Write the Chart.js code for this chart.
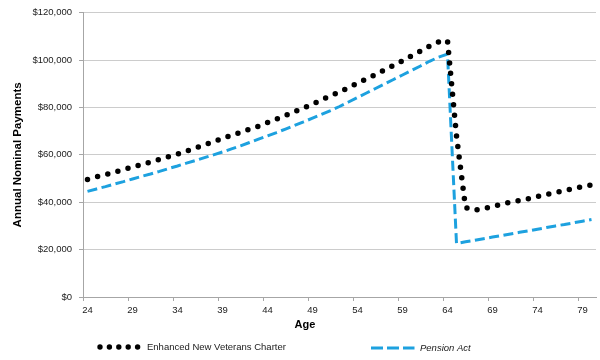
<!DOCTYPE html>
<html>
<head>
<meta charset="utf-8">
<script src="https://cdn.jsdelivr.net/npm/chart.js@4.4.0/dist/chart.umd.min.js"></script>
<style>
  html, body { margin: 0; padding: 0; background: #fff; }
</style>
</head>
<body>
<canvas id="chart" width="600" height="360"></canvas>
<script>
// Ages on the category axis
const ages = [24, 25, 26, 27, 28, 29, 30, 31, 32, 33, 34, 35, 36, 37, 38, 39, 40, 41, 42,
    43, 44, 45, 46, 47, 48, 49, 50, 51, 52, 53, 54, 55, 56, 57, 58, 59, 60, 61, 62, 63, 64,
    65, 66, 67, 68, 69, 70, 71, 72, 73, 74, 75, 76, 77, 78, 79, 80];

// Annual payments
const enhancedNVC = [49600, 50700, 51600, 52700, 53800, 54800, 55900, 57000, 58100, 59200,
    60300, 61600, 62900, 64200, 65500, 66900, 68300, 69500, 70800, 72100, 73600, 75100,
    76600, 78200, 79800, 81400, 83200, 84900, 86500, 88400, 90200, 92100, 93900, 95900,
    97800, 99700, 101800, 103800, 105900, 107600, 108200, 68000, 37800, 36600, 37300,
    38100, 39200, 40000, 40700, 41500, 42400, 43300, 44100, 45000, 45800, 46600, 47300];

const pensionAct = [44600, 45600, 46600, 47700, 48700, 49800, 50900, 51900, 53000, 54200,
    55300, 56500, 57600, 58800, 60000, 61200, 62500, 63800, 65200, 66600, 68000, 69400,
    70900, 72400, 73900, 75500, 77100, 78700, 80400, 82300, 84200, 86100, 88000, 89900,
    91800, 93700, 95600, 97500, 99500, 101200, 102500, 22600, 23300, 23900, 24600, 25300,
    25900, 26600, 27300, 27900, 28600, 29300, 30000, 30600, 31300, 32000, 32700];

// Tick labels
const xTickLabels = [24, 29, 34, 39, 44, 49, 54, 59, 64, 69, 74, 79];
const yTickLabels = ['$0', '$20,000', '$40,000', '$60,000', '$80,000', '$100,000', '$120,000'];

const FONT = '"Liberation Sans", Arial, sans-serif';
const axisColor = '#a6a6a6';

// Axis title "Age" and the legend under the chart
const bottomText = {
    id: 'bottomText',
    afterDraw(chart) {
        const ctx = chart.ctx;
        const ds = chart.data.datasets;
        ctx.save();
        ctx.fillStyle = '#000';
        ctx.textBaseline = 'middle';
        ctx.textAlign = 'center';
        ctx.font = 'bold 11px ' + FONT;
        ctx.fillText('Age', 305, 325);

        // dotted sample
        ctx.fillStyle = ds[0].borderColor;
        for (let i = 0; i < 5; i++) {
            ctx.beginPath();
            ctx.arc(100 + i * 9.4, 347, 2.7, 0, Math.PI * 2);
            ctx.fill();
        }
        // dashed sample
        ctx.strokeStyle = ds[1].borderColor;
        ctx.lineWidth = 3;
        ctx.setLineDash([12, 4]);
        ctx.beginPath();
        ctx.moveTo(371, 348);
        ctx.lineTo(414.5, 348);
        ctx.stroke();
        ctx.setLineDash([]);

        ctx.fillStyle = '#1a1a1a';
        ctx.textAlign = 'left';
        ctx.font = '9.5px ' + FONT;
        ctx.fillText(ds[0].label, 147, 347);
        ctx.font = 'italic 9.5px ' + FONT;
        ctx.fillText(ds[1].label, 420, 348);
        ctx.restore();
    }
};

new Chart(document.getElementById('chart'), {
    type: 'line',
    data: {
        labels: ages,
        datasets: [
            {
                label: 'Enhanced New Veterans Charter',
                data: enhancedNVC,
                borderColor: '#000000',
                borderWidth: 5.5,
                borderCapStyle: 'round',
                borderJoinStyle: 'round',
                borderDash: [0, 10.5],
                pointRadius: 0,
                tension: 0,
                fill: false,
            },
            {
                label: 'Pension Act',
                data: pensionAct,
                borderColor: '#1da1df',
                borderWidth: 3,
                borderCapStyle: 'butt',
                borderDash: [10, 4.5],
                pointRadius: 0,
                tension: 0,
                fill: false,
            },
        ],
    },
    options: {
        responsive: false,
        animation: false,
        layout: { padding: { left: 0, right: 4, top: 7, bottom: 41 } },
        plugins: {
            legend: { display: false },
            tooltip: { enabled: false },
        },
        scales: {
            x: {
                type: 'category',
                offset: true,
                border: { color: axisColor },
                grid: {
                    offset: true,
                    drawOnChartArea: false,
                    tickLength: 4,
                    tickColor: (c) => (c.index % 5 === 0 ? axisColor : 'rgba(0,0,0,0)'),
                },
                ticks: {
                    autoSkip: false,
                    maxRotation: 0,
                    padding: 4,
                    color: '#1a1a1a',
                    font: { family: FONT, size: 9.5 },
                    callback: (v, i) => (xTickLabels.includes(ages[i]) ? String(ages[i]) : ''),
                },
                afterFit: (s) => { s.height = 22; },
            },
            y: {
                min: 0,
                max: 120000,
                border: { color: axisColor },
                grid: { color: '#cccccc', tickLength: 4, tickColor: axisColor },
                ticks: {
                    stepSize: 20000,
                    padding: 7,
                    color: '#1a1a1a',
                    font: { family: FONT, size: 9.5 },
                    callback: (v, i) => yTickLabels[i],
                },
                title: {
                    display: true,
                    text: 'Annual Nominal Payments',
                    color: '#000',
                    font: { family: FONT, size: 11.5, weight: 'bold' },
                    padding: { top: 11, bottom: 0 },
                },
                afterFit: (s) => { s.width = 83; },
            },
        },
    },
    plugins: [bottomText],
});
</script>
</body>
</html>
